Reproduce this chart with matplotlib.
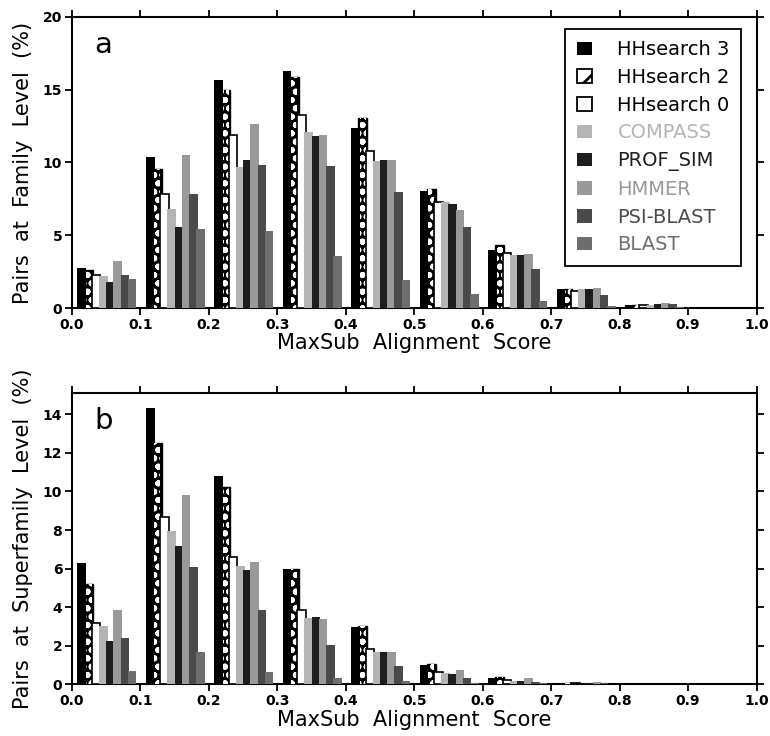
import numpy as np
import matplotlib
matplotlib.use('Agg')
import matplotlib.pyplot as plt
from matplotlib.patches import Patch

plt.rcParams['font.family'] = 'DejaVu Sans'
plt.rcParams['hatch.linewidth'] = 2.0

bins = np.arange(0.0, 1.0, 0.1)
methods = ['HHsearch 3', 'HHsearch 2', 'HHsearch 0', 'COMPASS',
           'PROF_SIM', 'HMMER', 'PSI-BLAST', 'BLAST']
colors = ['black', 'black', 'white', '#b4b4b4', '#1e1e1e', '#999999', '#4a4a4a', '#6e6e6e']
text_colors = ['black', 'black', 'black', '#b4b4b4', '#1e1e1e', '#999999', '#4a4a4a', '#6e6e6e']

# percent of pairs per score bin (rows = methods)
family = [
    [2.76, 10.41, 15.70, 16.28, 12.34, 8.05, 4.02, 1.31, 0.20, 0.0],
    [2.64, 9.54, 14.99, 15.86, 13.06, 8.18, 4.32, 1.31, 0.20, 0.0],
    [2.30, 7.82, 11.89, 13.26, 10.78, 7.31, 3.75, 1.15, 0.18, 0.0],
    [2.18, 6.83, 9.72, 12.11, 10.09, 7.31, 3.61, 1.31, 0.23, 0.0],
    [1.77, 5.54, 10.18, 11.79, 10.18, 7.15, 3.61, 1.31, 0.25, 0.0],
    [3.22, 10.50, 12.64, 11.89, 10.18, 6.76, 3.70, 1.38, 0.34, 0.0],
    [2.25, 7.86, 9.86, 9.79, 7.98, 5.54, 2.69, 0.92, 0.25, 0.0],
    [2.02, 5.40, 5.31, 3.56, 1.95, 0.99, 0.50, 0.16, 0.07, 0.0],
]
superfamily = [
    [6.28, 14.31, 10.80, 5.97, 2.96, 1.01, 0.31, 0.07, 0.02, 0.0],
    [5.18, 12.49, 10.21, 5.97, 3.01, 1.08, 0.40, 0.07, 0.02, 0.0],
    [3.18, 8.66, 6.61, 3.84, 1.83, 0.66, 0.23, 0.07, 0.02, 0.0],
    [3.01, 7.97, 6.16, 3.44, 1.69, 0.57, 0.19, 0.05, 0.01, 0.0],
    [2.23, 7.18, 5.91, 3.48, 1.69, 0.54, 0.19, 0.07, 0.01, 0.0],
    [3.86, 9.84, 6.35, 3.39, 1.69, 0.73, 0.31, 0.12, 0.02, 0.0],
    [2.42, 6.10, 3.86, 2.05, 0.97, 0.31, 0.14, 0.09, 0.01, 0.0],
    [0.71, 1.67, 0.66, 0.31, 0.17, 0.10, 0.07, 0.03, 0.0, 0.0],
]

step = 0.0105
width = 0.0126
offset = 0.008

fig = plt.figure(figsize=(7.7, 7.36), dpi=100)
ax_a = fig.add_axes([0.0935, 0.5815, 0.889, 0.3955])
ax_b = fig.add_axes([0.0935, 0.070, 0.889, 0.396])


def draw_panel(ax, data, ymax, yticks, ylabel, tag):
    for i, vals in enumerate(data):
        x = bins + offset + i * step
        if i == 1:
            ax.bar(x, vals, width=width, align='edge', facecolor='black',
                   edgecolor='black', linewidth=1.0, zorder=2 + i)
            ax.bar(x + 0.002, vals, width=width - 0.004, align='edge', facecolor='none',
                   edgecolor='white', hatch='oo', linewidth=0, zorder=2 + i)
        elif i == 2:
            ax.bar(x, vals, width=width, align='edge', facecolor='white',
                   edgecolor='black', linewidth=1.2, zorder=2 + i)
        else:
            ax.bar(x, vals, width=width, align='edge', color=colors[i],
                   linewidth=0, zorder=2 + i)
    ax.set_xlim(0, 1.0)
    ax.set_ylim(0, ymax)
    ax.set_xticks(np.arange(0, 1.01, 0.1))
    ax.set_xticklabels(['%.1f' % v for v in np.arange(0, 1.01, 0.1)])
    ax.set_yticks(yticks)
    ax.tick_params(direction='out', length=5, width=1.3, labelsize=10,
                   top=True, right=True, pad=2)
    for lab in ax.get_xticklabels() + ax.get_yticklabels():
        lab.set_fontweight('bold')
    for sp in ax.spines.values():
        sp.set_linewidth(1.5)
    ax.set_xlabel('MaxSub  Alignment  Score', fontsize=15, labelpad=1)
    ax.set_ylabel(ylabel, fontsize=15, labelpad=7)
    ax.text(0.033, 0.903, tag, transform=ax.transAxes, fontsize=21,
            va='center', ha='left', zorder=20)


draw_panel(ax_a, family, 20, [0, 5, 10, 15, 20], 'Pairs  at  Family  Level  (%)', 'a')
draw_panel(ax_b, superfamily, 15.1, [0, 2, 4, 6, 8, 10, 12, 14],
           'Pairs  at  Superfamily  Level  (%)', 'b')

handles = []
for i, name in enumerate(methods):
    if i == 1:
        handles.append(Patch(facecolor='white', edgecolor='black', hatch='/', linewidth=1.3))
    elif i == 2:
        handles.append(Patch(facecolor='white', edgecolor='black', linewidth=1.3))
    else:
        handles.append(Patch(facecolor=colors[i], edgecolor='none'))
leg = ax_a.legend(handles, methods, loc='upper right', bbox_to_anchor=(0.978, 0.96),
                  fontsize=14, handlelength=0.8, handleheight=0.7,
                  handletextpad=1.3, labelspacing=0.45, borderpad=0.6,
                  borderaxespad=0, fancybox=False, framealpha=1,
                  edgecolor='black', labelcolor=text_colors)
leg.get_frame().set_linewidth(1.3)
leg.set_zorder(30)

fig.savefig('out.png', dpi=100)
